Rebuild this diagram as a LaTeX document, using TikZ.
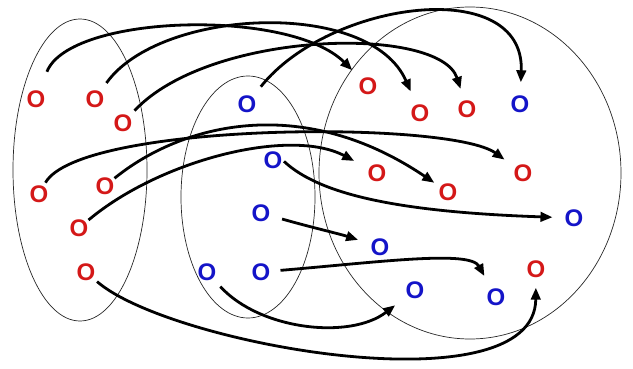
\documentclass[tikz,border=0pt]{standalone}
\usepackage{fontspec}
\setmainfont{Liberation Sans}
\usetikzlibrary{arrows.meta}
\definecolor{ored}{RGB}{212,24,24}
\definecolor{oblue}{RGB}{20,20,200}

\begin{document}
\begin{tikzpicture}[x=1pt, y=-1pt,
    dot/.style={inner sep=0pt, font=\bfseries\fontsize{24}{24}\selectfont},
    rdot/.style={dot, text=ored},
    bdot/.style={dot, text=oblue},
    link/.style={line width=2.8pt, -{Triangle[length=12pt,width=9.5pt]}},
    set/.style={line width=0.7pt, black!85}]
    \useasboundingbox (0,0) rectangle (633,369);

    \draw[set] (80,170) ellipse [x radius=67pt, y radius=151pt];
    \draw[set] (248,197) ellipse [x radius=67pt, y radius=121pt];
    \draw[set] (470,173) ellipse [x radius=151pt, y radius=166pt];

    % left set
    \node[rdot] (l1) at (36,99) {O};
    \node[rdot] (l2) at (95,99) {O};
    \node[rdot] (l3) at (123,123) {O};
    \node[rdot] (l4) at (39,194) {O};
    \node[rdot] (l5) at (105,186) {O};
    \node[rdot] (l6) at (79,228) {O};
    \node[rdot] (l7) at (86,272) {O};

    % middle set
    \node[bdot] (m1) at (247,104) {O};
    \node[bdot] (m2) at (273,160) {O};
    \node[bdot] (m3) at (261,213) {O};
    \node[bdot] (m4) at (207,272) {O};
    \node[bdot] (m5) at (261,272) {O};

    % right set
    \node[rdot] (r1) at (368,86) {O};
    \node[rdot] (r2) at (420,113) {O};
    \node[rdot] (r3) at (467,109) {O};
    \node[bdot] (r4) at (520,104) {O};
    \node[rdot] (r5) at (377,173) {O};
    \node[rdot] (r6) at (448,192) {O};
    \node[rdot] (r7) at (523,173) {O};
    \node[bdot] (r8) at (574,218) {O};
    \node[bdot] (r9) at (380,247) {O};
    \node[bdot] (r10) at (415,290) {O};
    \node[bdot] (r11) at (496,297) {O};
    \node[rdot] (r12) at (536,269) {O};

    \draw[link, shorten <=20pt, shorten >=10pt] (l1) .. controls (70,14) and (290,8) .. (r1);
    \draw[link, shorten <=9pt, shorten >=14pt] (l2) .. controls (160,8) and (370,-2) .. (r2);
    \draw[link, shorten <=5pt, shorten >=12pt] (l3) .. controls (210,30) and (440,25) .. (r3);
    \draw[link, shorten <=11pt, shorten >=13pt] (m1) .. controls (330,0) and (525,-25) .. (r4);
    \draw[link, shorten <=3pt, shorten >=11pt] (l4) .. controls (80,122) and (450,120) .. (r7);
    \draw[link, shorten >=5pt] (l5) .. controls (180,125) and (300,92) .. (r6);
    \draw[link, shorten >=15pt] (l6) .. controls (160,160) and (290,127) .. (r5);
    \draw[link, shorten <=2pt, shorten >=12pt] (m2.east) .. controls (320,195) and (400,212) .. (r8);
    \draw[link, shorten <=12pt, shorten >=13pt] (m3) .. controls (310,227) and (340,234) .. (r9);
    \draw[link, shorten <=10pt, shorten >=14pt] (m5) .. controls (380,262) and (470,250) .. (r11);
    \draw[link, shorten <=8pt, shorten >=13pt] (m4) .. controls (260,330) and (350,340) .. (r10);
    \draw[link, shorten <=2pt, shorten >=10pt] (l7) .. controls (170,345) and (535,410) .. (r12);
\end{tikzpicture}
\end{document}
